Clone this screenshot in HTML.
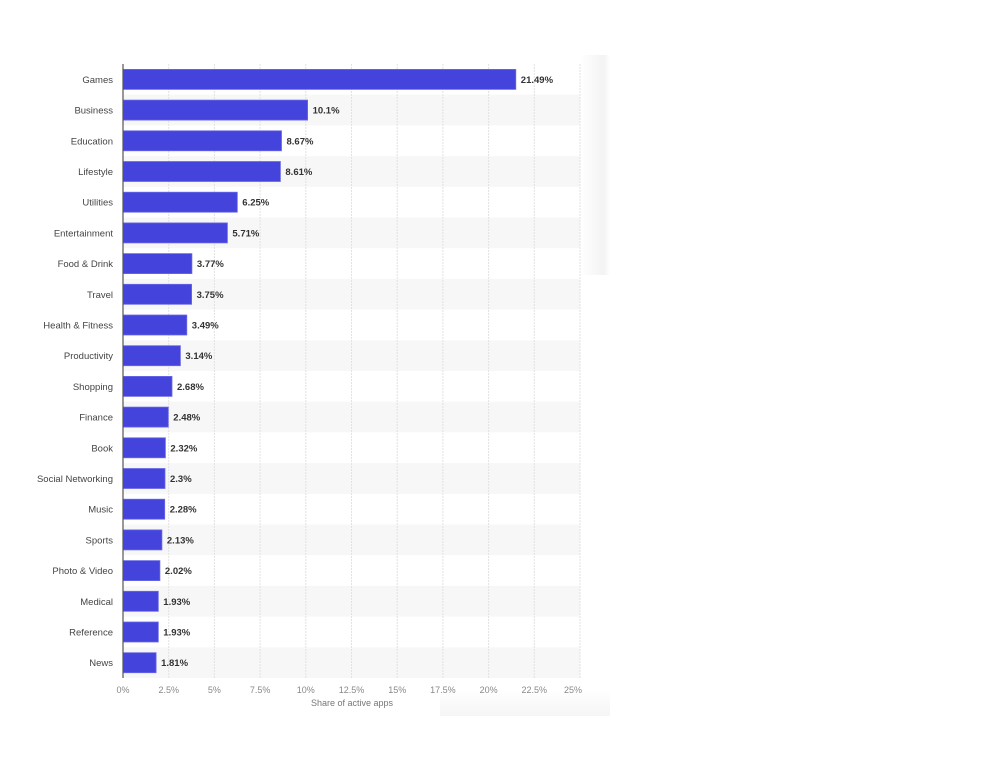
<!DOCTYPE html><html><head><style>
body{margin:0;background:#fff;width:986px;height:758px;position:relative;overflow:hidden;font-family:"Liberation Sans",sans-serif}
.sh{position:absolute;left:580px;top:55px;width:30px;height:220px;background:linear-gradient(90deg,#fff,#f3f3f3 80%,#fff)}
.sh2{position:absolute;left:440px;top:690px;width:170px;height:26px;background:linear-gradient(180deg,#fff,#f5f5f5)}
</style></head><body>
<div class="sh"></div><div class="sh2"></div>
<svg width="986" height="758" style="position:absolute;left:0;top:0" font-family="Liberation Sans, sans-serif">
<g fill="#f7f7f7">
<rect x="123" y="94.7" width="457" height="30.7"/><rect x="123" y="156.1" width="457" height="30.7"/><rect x="123" y="217.5" width="457" height="30.7"/><rect x="123" y="278.9" width="457" height="30.7"/><rect x="123" y="340.3" width="457" height="30.7"/><rect x="123" y="401.7" width="457" height="30.7"/><rect x="123" y="463.1" width="457" height="30.7"/><rect x="123" y="524.5" width="457" height="30.7"/><rect x="123" y="585.9" width="457" height="30.7"/><rect x="123" y="647.3" width="457" height="30.7"/>
</g>
<g stroke="#e2e2e2" stroke-dasharray="2,1">
<line x1="168.7" y1="64" x2="168.7" y2="678"/><line x1="214.4" y1="64" x2="214.4" y2="678"/><line x1="260.1" y1="64" x2="260.1" y2="678"/><line x1="305.8" y1="64" x2="305.8" y2="678"/><line x1="351.5" y1="64" x2="351.5" y2="678"/><line x1="397.2" y1="64" x2="397.2" y2="678"/><line x1="442.9" y1="64" x2="442.9" y2="678"/><line x1="488.6" y1="64" x2="488.6" y2="678"/><line x1="534.3" y1="64" x2="534.3" y2="678"/><line x1="580" y1="64" x2="580" y2="678"/>
</g>
<g fill="#4443dc" stroke="#6a6ae6" stroke-width="0.8">
<rect x="123" y="69.4" width="392.8" height="20"/>
<rect x="123" y="100.1" width="184.6" height="20"/>
<rect x="123" y="130.8" width="158.5" height="20"/>
<rect x="123" y="161.5" width="157.4" height="20"/>
<rect x="123" y="192.2" width="114.3" height="20"/>
<rect x="123" y="222.9" width="104.4" height="20"/>
<rect x="123" y="253.6" width="68.9" height="20"/>
<rect x="123" y="284.3" width="68.6" height="20"/>
<rect x="123" y="315.0" width="63.8" height="20"/>
<rect x="123" y="345.7" width="57.4" height="20"/>
<rect x="123" y="376.4" width="49.0" height="20"/>
<rect x="123" y="407.1" width="45.3" height="20"/>
<rect x="123" y="437.8" width="42.4" height="20"/>
<rect x="123" y="468.5" width="42.0" height="20"/>
<rect x="123" y="499.2" width="41.7" height="20"/>
<rect x="123" y="529.9" width="38.9" height="20"/>
<rect x="123" y="560.6" width="36.9" height="20"/>
<rect x="123" y="591.3" width="35.3" height="20"/>
<rect x="123" y="622.0" width="35.3" height="20"/>
<rect x="123" y="652.7" width="33.1" height="20"/>
</g>
<g font-size="9.5" fill="#333" font-weight="bold">
<text x="520.8" y="82.9">21.49%</text>
<text x="312.6" y="113.6">10.1%</text>
<text x="286.5" y="144.3">8.67%</text>
<text x="285.4" y="175.0">8.61%</text>
<text x="242.3" y="205.7">6.25%</text>
<text x="232.4" y="236.4">5.71%</text>
<text x="196.9" y="267.1">3.77%</text>
<text x="196.6" y="297.8">3.75%</text>
<text x="191.8" y="328.5">3.49%</text>
<text x="185.4" y="359.2">3.14%</text>
<text x="177.0" y="389.9">2.68%</text>
<text x="173.3" y="420.6">2.48%</text>
<text x="170.4" y="451.3">2.32%</text>
<text x="170.0" y="482.0">2.3%</text>
<text x="169.7" y="512.7">2.28%</text>
<text x="166.9" y="543.4">2.13%</text>
<text x="164.9" y="574.1">2.02%</text>
<text x="163.3" y="604.8">1.93%</text>
<text x="163.3" y="635.5">1.93%</text>
<text x="161.1" y="666.2">1.81%</text>
</g>
<g font-size="9.5" fill="#444" text-anchor="end">
<text x="113" y="82.9">Games</text>
<text x="113" y="113.6">Business</text>
<text x="113" y="144.3">Education</text>
<text x="113" y="175.0">Lifestyle</text>
<text x="113" y="205.7">Utilities</text>
<text x="113" y="236.4">Entertainment</text>
<text x="113" y="267.1">Food &amp; Drink</text>
<text x="113" y="297.8">Travel</text>
<text x="113" y="328.5">Health &amp; Fitness</text>
<text x="113" y="359.2">Productivity</text>
<text x="113" y="389.9">Shopping</text>
<text x="113" y="420.6">Finance</text>
<text x="113" y="451.3">Book</text>
<text x="113" y="482.0">Social Networking</text>
<text x="113" y="512.7">Music</text>
<text x="113" y="543.4">Sports</text>
<text x="113" y="574.1">Photo &amp; Video</text>
<text x="113" y="604.8">Medical</text>
<text x="113" y="635.5">Reference</text>
<text x="113" y="666.2">News</text>
</g>
<line x1="123" y1="64" x2="123" y2="678" stroke="#555" stroke-width="1.2"/>
<g font-size="9" fill="#888" text-anchor="middle">
<text x="123" y="693">0%</text><text x="168.7" y="693">2.5%</text><text x="214.4" y="693">5%</text><text x="260.1" y="693">7.5%</text><text x="305.8" y="693">10%</text><text x="351.5" y="693">12.5%</text><text x="397.2" y="693">15%</text><text x="442.9" y="693">17.5%</text><text x="488.6" y="693">20%</text><text x="534.3" y="693">22.5%</text><text x="573" y="693">25%</text>
</g>
<text x="352" y="706" font-size="9" fill="#777" text-anchor="middle">Share of active apps</text>
</svg>
</body></html>
